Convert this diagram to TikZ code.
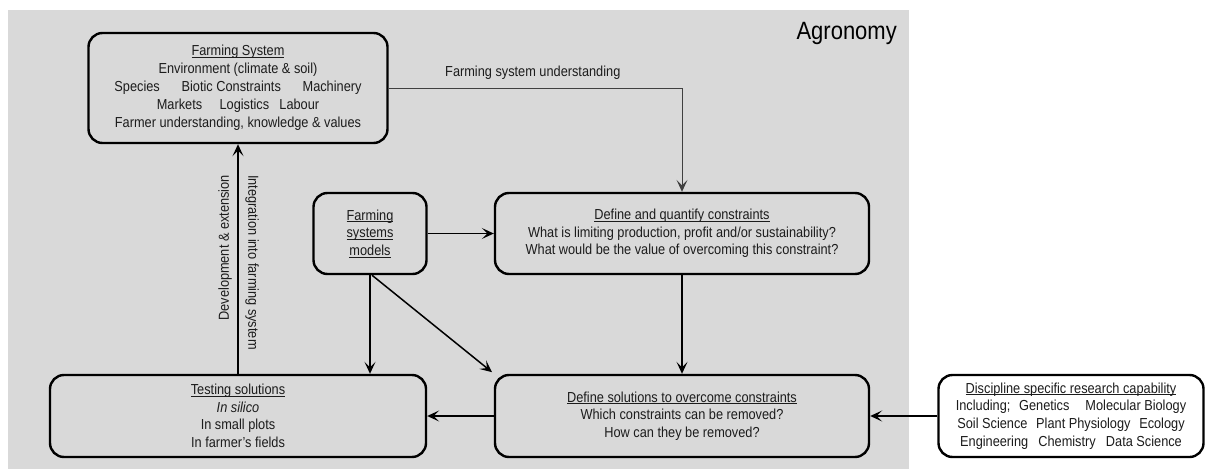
\documentclass[tikz,border=0pt]{standalone}
\usepackage{fontspec}
\setmainfont{Liberation Sans}[FakeStretch=0.88]
\usetikzlibrary{arrows.meta}
\definecolor{bg}{HTML}{D9D9D9}
\definecolor{ink}{HTML}{1C1C1C}
\newcommand{\ulx}[1]{\setbox0\hbox{#1}\rlap{\rule[-1.8pt]{\wd0}{0.7pt}}\box0}
\tikzset{
  box/.style={draw=black, line width=2.4pt, rounded corners=14pt, fill=bg, text=ink, align=center, inner sep=0pt, font=\fontsize{14.5}{17.6}\selectfont},
  arr/.style={draw=black, line width=1.5pt, -{Stealth[length=12pt,width=11pt,inset=5.5pt]}},
  thinarr/.style={draw=black!75, line width=0.9pt, -{Stealth[length=12pt,width=11pt,inset=5.5pt]}},
  lbl/.style={text=ink, font=\fontsize{14.5}{16}\selectfont, inner sep=0pt},
}
\begin{document}
\begin{tikzpicture}[x=1pt,y=-1pt]
\useasboundingbox (0,0) rectangle (1206,473);
\fill[bg] (8,10) rectangle (909,469);
\node[text=black, font=\fontsize{25}{28}\selectfont, anchor=north east, inner sep=0pt] (agr) at (897,22) {Agronomy};

\node[box, minimum width=299pt, minimum height=110pt] (fs) at (238,88)
 {\ulx{Farming System}\\[0.5pt]
  Environment (climate \& soil)\\[0.5pt]
  Species\hspace{1.5em}Biotic Constraints\hspace{1.5em}Machinery\\[0.5pt]
  Markets\hspace{1.2em}Logistics\hspace{0.7em}Labour\\[0.5pt]
  Farmer understanding, knowledge \& values};

\node[box, minimum width=113pt, minimum height=81pt] (fsm) at (370,233.5)
 {\ulx{Farming}\\ \ulx{systems}\\ \ulx{models}};

\node[box, minimum width=374pt, minimum height=81pt] (dq) at (682,233.5)
 {\ulx{Define and quantify constraints}\\
  What is limiting production, profit and/or sustainability?\\
  What would be the value of overcoming this constraint?};

\node[box, minimum width=376pt, minimum height=82pt] (ts) at (238,416)
 {\ulx{Testing solutions}\\ \textit{In silico}\\ In small plots\\ In farmer's fields};

\node[box, minimum width=374pt, minimum height=82pt] (ds) at (682,416)
 {\ulx{Define solutions to overcome constraints}\\
  Which constraints can be removed?\\
  How can they be removed?};

\node[box, fill=white, minimum width=265pt, minimum height=82pt] (dis) at (1071,416)
 {\ulx{Discipline specific research capability}\\
  Including;\hspace{0.6em}Genetics\hspace{1.1em}Molecular Biology\\
  Soil Science\hspace{0.6em}Plant Physiology\hspace{0.6em}Ecology\\
  Engineering\hspace{0.7em}Chemistry\hspace{0.7em}Data Science};

% connectors
\coordinate (bend) at (dq.north |- fs.east);
\draw[thinarr] (fs.east) -- (bend) -- (dq.north);
\node[lbl, anchor=south west] (fsu) at (445,80) {Farming system understanding};

\draw[arr] (fsm.east) -- (dq.west);
\draw[arr] (dq.south) -- (ds.north);
\draw[arr] (fsm.south) -- (fsm.south |- ts.north);
\draw[arr, shorten >=1pt] ([xshift=2pt]fsm.south) -- ([xshift=-1pt,yshift=1pt]ds.north west);
\draw[arr] (ds.west) -- (ts.east);
\draw[arr] (dis.west) -- (ds.east);
\draw[arr] (ts.north) -- (fs.south);

\node[lbl, rotate=90, anchor=east] (dev) at (225,175) {Development \& extension};
\node[lbl, rotate=-90, anchor=west] (integ) at (252,175) {Integration into farming system};
\end{tikzpicture}
\end{document}
